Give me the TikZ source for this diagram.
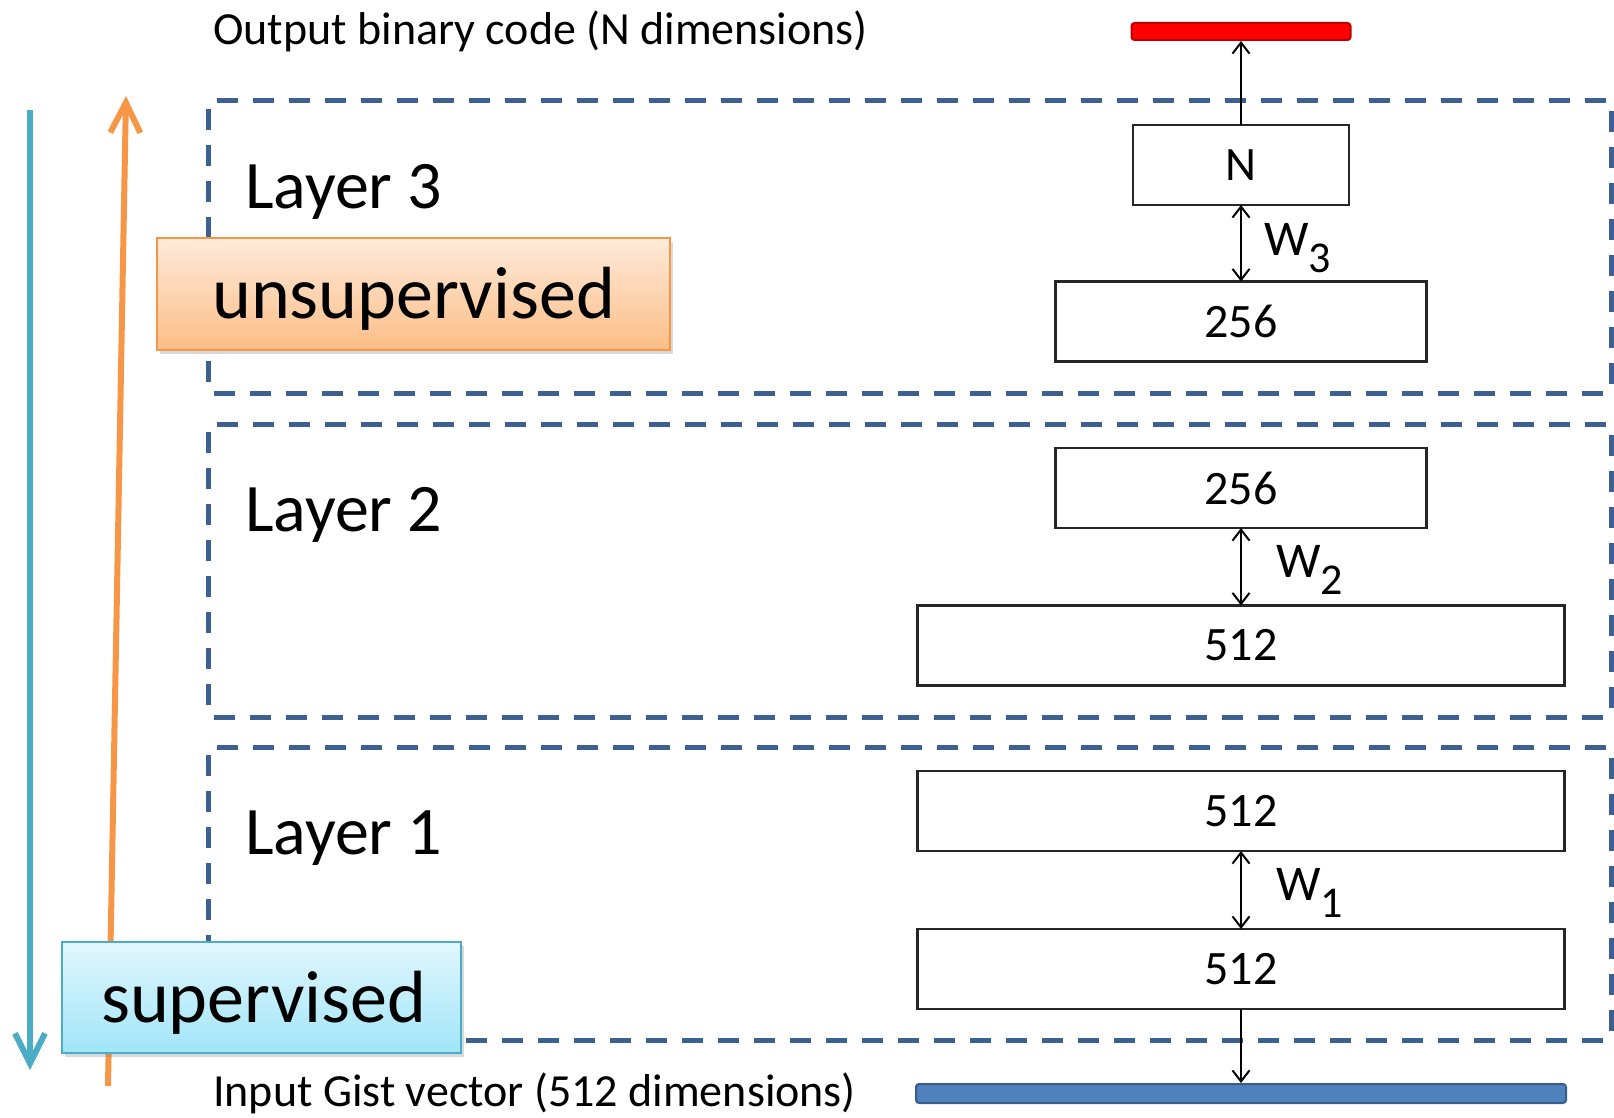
\documentclass[tikz,border=0pt]{standalone}
\usepackage{fontspec}
\setmainfont{Carlito}
\usetikzlibrary{arrows.meta,shadows}
\definecolor{dashblue}{RGB}{60,96,145}
\definecolor{codered}{RGB}{255,0,0}
\definecolor{coderedline}{RGB}{192,0,0}
\definecolor{gistblue}{RGB}{79,129,189}
\definecolor{gistblueline}{RGB}{56,93,138}
\definecolor{accentcyan}{RGB}{75,172,198}
\definecolor{accentorange}{RGB}{247,150,70}
\definecolor{orangetop}{RGB}{255,234,218}
\definecolor{orangebot}{RGB}{251,190,135}
\definecolor{cyantop}{RGB}{226,247,253}
\definecolor{cyanbot}{RGB}{160,229,249}
\tikzset{
  sbarb/.tip={Straight Barb[length=11pt,width=17pt]},
  lbarb/.tip={Straight Barb[length=30pt,width=30pt]}
}
\begin{document}
\begin{tikzpicture}[x=1pt,y=-1pt,
  fs/.style={font=\fontsize{#1}{#1}\selectfont},
  layerbox/.style={draw=dashblue, line width=5pt, dash pattern=on 21pt off 15pt,
    rounded corners=5pt, minimum width=1403pt, minimum height=293pt,
    inner sep=0pt, outer sep=0pt},
  unitbox/.style={draw=black!85, line width=2.8pt, fill=white, inner sep=0pt,
    outer sep=0pt, minimum height=80pt, font=\fontsize{48}{48}\selectfont},
  link/.style={black, line width=2pt},
  tagbox/.style={line width=2pt, inner sep=0pt, outer sep=0pt,
    drop shadow={shadow xshift=3pt, shadow yshift=-4pt, opacity=0.3}},
  plain/.style={anchor=base west, inner sep=0pt}
]
\useasboundingbox (0,0) rectangle (1614,1118);

% dashed layer frames
\node[layerbox] (layer3) at (909.5,247) {};
\node[layerbox] (layer2) at (909.5,570.5) {};
\node[layerbox] (layer1) at (909.5,893.5) {};

% layer captions
\node[plain, fs=68] (cap3) at (245,208) {Layer 3};
\node[plain, fs=68] (cap2) at (245,531) {Layer 2};
\node[plain, fs=68] (cap1) at (245,854) {Layer 1};

% output and input codes
\node[draw=coderedline, fill=codered, line width=2pt, rounded corners=3pt,
  minimum width=219pt, minimum height=17pt, inner sep=0pt] (outbar) at (1241,31.5) {};
\node[draw=gistblueline, fill=gistblue, line width=2pt, rounded corners=3pt,
  minimum width=650pt, minimum height=19pt, inner sep=0pt] (inbar) at (1241,1093.5) {};
\node[plain, fs=46] (outtxt) at (213,45) {Output binary code (N dimensions)};
\node[plain, fs=46] (intxt) at (213,1106) {Input Gist vector (512 dimensions)};

% units of each layer
\node[unitbox, minimum width=216pt] (n3) at (1241,165) {N};
\node[unitbox, minimum width=371pt] (b3) at (1241,321.5) {256};
\node[unitbox, minimum width=371pt] (b2top) at (1241,488) {256};
\node[unitbox, minimum width=647pt] (b2bot) at (1241,645.5) {512};
\node[unitbox, minimum width=647pt] (b1top) at (1241,811) {512};
\node[unitbox, minimum width=647pt] (b1bot) at (1241,969) {512};

% weights between units
\draw[link, sbarb-sbarb] (n3.south) -- (b3.north);
\draw[link, sbarb-sbarb] (b2top.south) -- (b2bot.north);
\draw[link, sbarb-sbarb] (b1top.south) -- (b1bot.north);
\draw[link, -sbarb] (n3.north) -- (outbar.south);
\draw[link, -sbarb] (b1bot.south) -- (inbar.north);

\node[plain, fs=50] (w3) at (1264,255) {W\raisebox{-17pt}{\fontsize{44}{44}\selectfont 3}};
\node[plain, fs=50] (w2) at (1276,577) {W\raisebox{-17pt}{\fontsize{44}{44}\selectfont 2}};
\node[plain, fs=50] (w1) at (1276,900) {W\raisebox{-17pt}{\fontsize{44}{44}\selectfont 1}};

% training directions
\coordinate (cyanstart) at (30,110);
\coordinate (cyanend) at (30,1070);
\coordinate (orangestart) at (108,1086);
\coordinate (orangeend) at (126,96);
\draw[accentcyan, line width=6pt, -lbarb] (cyanstart) -- (cyanend);
\draw[accentorange, line width=6pt, -lbarb] (orangestart) -- (orangeend);

% phase tags
\node[tagbox, draw=accentorange, top color=orangetop, bottom color=orangebot,
  minimum width=513pt, minimum height=112pt] (unsup) at (413.5,294) {};
\node[plain, fs=74] (unsuptxt) at (212,318) {unsupervised};
\node[tagbox, draw=accentcyan, top color=cyantop, bottom color=cyanbot,
  minimum width=399pt, minimum height=111pt] (sup) at (261.5,997.5) {};
\node[plain, fs=74] (suptxt) at (101,1022) {supervised};
\end{tikzpicture}
\end{document}
